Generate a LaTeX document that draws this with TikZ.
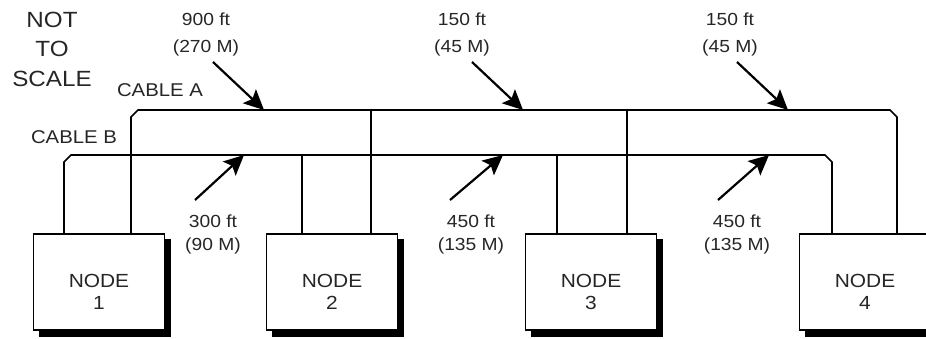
\documentclass[tikz,border=0pt]{standalone}
\usepackage{fontspec}
\setmainfont{Liberation Sans}[FakeStretch=1.1]
\usetikzlibrary{arrows.meta,backgrounds}
\begin{document}
\begin{tikzpicture}[x=1pt,y=-1pt,
  cable/.style={line width=1.6pt, black},
  arr/.style={line width=2.2pt, -{Stealth[length=20pt,width=19pt,inset=4pt]}},
  lbl/.style={font=\fontsize{17.5}{27}\selectfont, text=black!85, align=center, inner sep=0pt},
  lowlbl/.style={font=\fontsize{17.5}{23}\selectfont, text=black!85, align=center, inner sep=0pt},
  cablelbl/.style={font=\fontsize{18.5}{22}\selectfont, text=black!85, inner sep=0pt},
  title/.style={font=\fontsize{22}{29.5}\selectfont, text=black!85, align=center, inner sep=0pt},
  nodebox/.style={draw, line width=1.6pt, fill=white, minimum width=131pt, minimum height=96pt, inner sep=0pt},
  nodetext/.style={align=center, inner sep=0pt, text=black!85, font=\fontsize{19}{22}\selectfont},
  shadowfill/.style={fill=black}
]
\useasboundingbox (0,0) rectangle (926,338);

% nodes
\node[nodebox] (n1) at (99,282) {};
\node[nodebox] (n2) at (332,282) {};
\node[nodebox] (n3) at (591,282) {};
\node[nodebox] (n4) at (865,282) {};
\begin{scope}[on background layer]
  \fill[white] (0,0) rectangle (926,338);
  \foreach \n in {n1,n2,n3,n4}
    \fill[shadowfill] ([shift={(6pt,-6pt)}]\n.south west) rectangle ([shift={(6pt,-6pt)}]\n.north east);
\end{scope}
\node[nodetext] (n1t) at ([yshift=-10pt]n1.center) {NODE\\1};
\node[nodetext] (n2t) at ([yshift=-10pt]n2.center) {NODE\\2};
\node[nodetext] (n3t) at ([yshift=-10pt]n3.center) {NODE\\3};
\node[nodetext] (n4t) at ([yshift=-10pt]n4.center) {NODE\\4};

% cable tap coordinates
\coordinate (a1) at (131,110);
\coordinate (a2) at (371,110);
\coordinate (a3) at (627,110);
\coordinate (a4) at (897,110);
\coordinate (b1) at (64,155);
\coordinate (b2) at (302,155);
\coordinate (b3) at (557,155);
\coordinate (b4) at (832,155);

% cable A
\draw[cable] (n1.north -| a1) -- ([yshift=-7pt]a1) -- ([xshift=7pt]a1)
   -- ([xshift=-7pt]a4) -- ([yshift=-7pt]a4) -- (n4.north -| a4);
\draw[cable] (a2) -- (n2.north -| a2);
\draw[cable] (a3) -- (n3.north -| a3);
% cable B
\draw[cable] (n1.north -| b1) -- ([yshift=-7pt]b1) -- ([xshift=7pt]b1)
   -- ([xshift=-7pt]b4) -- ([yshift=-7pt]b4) -- (n4.north -| b4);
\draw[cable] (b2) -- (n2.north -| b2);
\draw[cable] (b3) -- (n3.north -| b3);

% labels
\node[title] (nts) at (52,49) {NOT\\TO\\SCALE};
\node[cablelbl] (ca) at (160,90) {CABLE A};
\node[cablelbl] (cb) at (74,137) {CABLE B};

\node[lbl] (l1) at (206,34) {900 ft\\(270 M)};
\node[lbl] (l2) at (462,34) {150 ft\\(45 M)};
\node[lbl] (l3) at (730,34) {150 ft\\(45 M)};
\node[lowlbl] (l4) at (213,234) {300 ft\\(90 M)};
\node[lowlbl] (l5) at (471,234) {450 ft\\(135 M)};
\node[lowlbl] (l6) at (737,234) {450 ft\\(135 M)};

% arrows
\coordinate (s1) at (213,62);  \coordinate (t1) at (264,110);
\coordinate (s2) at (472,62);  \coordinate (t2) at (523,110);
\coordinate (s3) at (737,62);  \coordinate (t3) at (788,110);
\coordinate (s4) at (195,200); \coordinate (t4) at (244,155);
\coordinate (s5) at (450,200); \coordinate (t5) at (503,155);
\coordinate (s6) at (718,200); \coordinate (t6) at (769,155);
\foreach \i in {1,...,6} \draw[arr] (s\i) -- (t\i);
\end{tikzpicture}
\end{document}
